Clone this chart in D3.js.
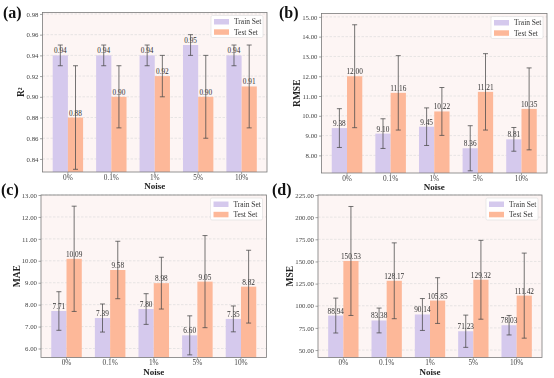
<!DOCTYPE html>
<html><head><meta charset="utf-8">
<script src="https://cdn.jsdelivr.net/npm/d3@7"></script>
<style>body{margin:0;background:#fff}svg{display:block;opacity:0.999}</style>
</head><body>
<svg id="c" width="554" height="378"></svg>
<script>
const categories = ["0%", "0.1%", "1%", "5%", "10%"];
const seriesNames = ["Train Set", "Test Set"];

const r2Train = [0.94, 0.94, 0.94, 0.95, 0.94];
const r2Test = [0.88, 0.90, 0.92, 0.90, 0.91];
const r2TrainErr = [0.01, 0.01, 0.01, 0.01, 0.01];
const r2TestErr = [0.05, 0.03, 0.02, 0.04, 0.04];
const r2Ticks = [0.84, 0.86, 0.88, 0.90, 0.92, 0.94, 0.96, 0.98];

const rmseTrain = [9.38, 9.10, 9.45, 8.36, 8.81];
const rmseTest = [12.00, 11.16, 10.22, 11.21, 10.35];
const rmseTrainErr = [0.98, 0.75, 0.95, 1.14, 0.60];
const rmseTestErr = [2.60, 1.88, 1.21, 1.93, 2.07];
const rmseTicks = [8, 9, 10, 11, 12, 13, 14, 15];

const maeTrain = [7.71, 7.39, 7.80, 6.60, 7.35];
const maeTest = [10.09, 9.58, 8.98, 9.05, 8.82];
const maeTrainErr = [0.88, 0.64, 0.70, 0.89, 0.59];
const maeTestErr = [2.40, 1.31, 1.18, 2.10, 1.66];
const maeTicks = [6, 7, 8, 9, 10, 11, 12, 13];

const mseTrain = [88.94, 83.38, 90.14, 71.23, 78.03];
const mseTest = [150.53, 128.17, 105.85, 129.32, 111.42];
const mseTrainErr = [19.7, 14.0, 18.0, 18.2, 11.0];
const mseTestErr = [61.5, 42.8, 25.8, 44.5, 48.0];
const mseTicks = [50, 75, 100, 125, 150, 175, 200, 225];

const panels = [
  {tag:"(a)", ylabel:"R²", train:r2Train, test:r2Test, trainErr:r2TrainErr, testErr:r2TestErr, ticks:r2Ticks, yDomain:[0.8274,0.9814], box:[42.5,12.5,267,172], tagPos:[3,18], ylabX:21},
  {tag:"(b)", ylabel:"RMSE", train:rmseTrain, test:rmseTest, trainErr:rmseTrainErr, testErr:rmseTestErr, ticks:rmseTicks, yDomain:[7.11,15.17], box:[321.5,13.5,547,173], tagPos:[279,18], ylabX:297},
  {tag:"(c)", ylabel:"MAE", train:maeTrain, test:maeTest, trainErr:maeTrainErr, testErr:maeTestErr, ticks:maeTicks, yDomain:[5.59,13.0], box:[41,195,266.5,357.5], tagPos:[1,195], ylabX:16.5},
  {tag:"(d)", ylabel:"MSE", train:mseTrain, test:mseTest, trainErr:mseTrainErr, testErr:mseTestErr, ticks:mseTicks, yDomain:[41.6,225], box:[318,195,542,357.5], tagPos:[272,195], ylabX:290}
];

const colors = ["#d5c9ed", "#fdb899"];
const font = "'Liberation Serif','Times New Roman',serif";
const svg = d3.select("#c");

panels.forEach(p => {
  const [x0, y0, x1, y1] = p.box;
  const g = svg.append("g");
  const x = d3.scaleBand().domain(categories).range([x0, x1]).paddingInner(0).paddingOuter(0.085);
  const y = d3.scaleLinear().domain(p.yDomain).range([y1, y0]);
  const bw = x.step() * 0.35;

  g.append("rect").attr("x", x0).attr("y", y0).attr("width", x1 - x0).attr("height", y1 - y0).attr("fill", "#fdf5f4");

  g.selectAll(".grid").data(p.ticks).join("line")
    .attr("x1", x0).attr("x2", x1)
    .attr("y1", d => y(d)).attr("y2", d => y(d))
    .attr("stroke", "#d8d8d8").attr("stroke-width", 0.6).attr("stroke-dasharray", "2.5,1.5");

  const series = [
    {vals:p.train, errs:p.trainErr, off:-bw/2, col:colors[0]},
    {vals:p.test, errs:p.testErr, off:bw/2, col:colors[1]}
  ];
  series.forEach(s => {
    const cx = (c) => x(c) + x.bandwidth()/2 + s.off;
    g.selectAll(null).data(categories).join("rect")
      .attr("x", (c) => cx(c) - bw/2)
      .attr("y", (c, i) => y(s.vals[i]))
      .attr("width", bw)
      .attr("height", (c, i) => y1 - y(s.vals[i]))
      .attr("fill", s.col);
  });
  series.forEach(s => {
    const cx = (c) => x(c) + x.bandwidth()/2 + s.off;
    g.selectAll(null).data(categories).join("text")
      .attr("x", cx).attr("y", (c, i) => y(s.vals[i]) - 2)
      .attr("text-anchor", "middle").attr("font-family", font).attr("font-size", 7.3).attr("fill", "#333")
      .text((c, i) => s.vals[i].toFixed(2));
  });
  series.forEach(s => {
    const cx = (c) => x(c) + x.bandwidth()/2 + s.off;
    const eg = g.append("g").attr("stroke", "#4a4a4a").attr("stroke-opacity", 0.85).attr("stroke-width", 0.9);
    categories.forEach((c, i) => {
      const lo = y(s.vals[i] - s.errs[i]), hi = y(s.vals[i] + s.errs[i]);
      eg.append("line").attr("x1", cx(c)).attr("x2", cx(c)).attr("y1", lo).attr("y2", hi);
      eg.append("line").attr("x1", cx(c) - 2.5).attr("x2", cx(c) + 2.5).attr("y1", lo).attr("y2", lo);
      eg.append("line").attr("x1", cx(c) - 2.5).attr("x2", cx(c) + 2.5).attr("y1", hi).attr("y2", hi);
    });
  });

  const yAxis = d3.axisLeft(y).tickValues(p.ticks).tickSize(2.5).tickPadding(1.5)
    .tickFormat(d3.format(".2f"));
  const ya = g.append("g").attr("transform", `translate(${x0},0)`).call(yAxis);
  ya.select(".domain").remove();
  ya.selectAll("text").attr("font-family", font).attr("font-size", 6.8).attr("fill", "#444");
  ya.selectAll("line").attr("stroke", "#666").attr("stroke-width", 0.6);

  const xAxis = d3.axisBottom(x).tickSize(2).tickPadding(0.5);
  const xa = g.append("g").attr("transform", `translate(0,${y1})`).call(xAxis);
  xa.select(".domain").remove();
  xa.selectAll("text").attr("font-family", font).attr("font-size", 7.3).attr("fill", "#444");
  xa.selectAll("line").attr("stroke", "#666").attr("stroke-width", 0.6);

  g.append("rect").attr("x", x0).attr("y", y0).attr("width", x1 - x0).attr("height", y1 - y0)
    .attr("fill", "none").attr("stroke", "#7a7a7a").attr("stroke-width", 0.8);

  g.append("text").attr("x", (x0 + x1) / 2).attr("y", y1 + 17).attr("text-anchor", "middle")
    .attr("font-family", font).attr("font-weight", "bold").attr("font-size", 9).attr("fill", "#222").text("Noise");

  g.append("text").attr("transform", `translate(${p.ylabX},${(y0 + y1) / 2}) rotate(-90)`)
    .attr("text-anchor", "middle").attr("dominant-baseline", "central")
    .attr("font-family", font).attr("font-weight", "bold").attr("font-size", 9.5).attr("fill", "#222").text(p.ylabel);

  g.append("text").attr("x", p.tagPos[0]).attr("y", p.tagPos[1])
    .attr("font-family", font).attr("font-weight", "bold").attr("font-size", 16).attr("fill", "#111").text(p.tag);

  const lw = 52, lh = 22, lx = x1 - 4 - lw, ly = y0 + 3;
  const lg = g.append("g");
  lg.append("rect").attr("x", lx).attr("y", ly).attr("width", lw).attr("height", lh).attr("rx", 1.5)
    .attr("fill", "#fff").attr("fill-opacity", 0.85).attr("stroke", "#ddd").attr("stroke-width", 0.6);
  seriesNames.forEach((n, i) => {
    lg.append("rect").attr("x", lx + 3).attr("y", ly + 3.5 + i * 10.3).attr("width", 15).attr("height", 5.5).attr("fill", colors[i]);
    lg.append("text").attr("x", lx + 23).attr("y", ly + 8.8 + i * 10.3)
      .attr("font-family", font).attr("font-size", 7.5).attr("fill", "#333").text(n);
  });
});
</script>
</body></html>
